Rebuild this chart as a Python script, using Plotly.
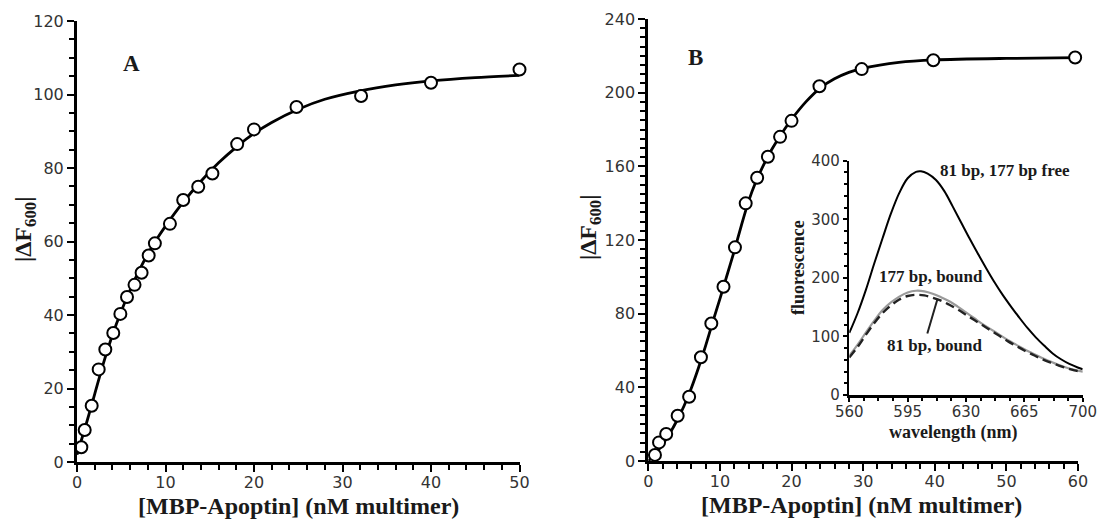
import plotly.graph_objects as go

# ---------------- Panel A data ----------------
a_x = [0.49, 0.87, 1.66, 2.45, 3.2, 4.1, 4.9, 5.65, 6.5, 7.3, 8.1, 8.8, 10.5, 12.0, 13.7, 15.3, 18.1, 20.0, 24.8, 32.1, 40.0, 50.0]
a_y = [4.0, 8.7, 15.3, 25.2, 30.6, 35.1, 40.3, 44.9, 48.2, 51.5, 56.2, 59.5, 64.8, 71.3, 74.9, 78.5, 86.5, 90.5, 96.6, 99.6, 103.2, 106.8]
a_fit_x = [0, 1, 2, 3, 4, 5, 6, 7, 8, 9, 10, 12, 14, 16, 18, 20, 22, 25, 28, 32, 36, 40, 45, 50]
a_fit_y = [2, 10, 18.5, 27, 34.5, 41, 46.8, 52, 56.6, 60.6, 64.2, 70.7, 76.4, 81.4, 85.7, 89.4, 92.4, 96, 98.7, 101, 102.6, 103.7, 104.6, 105.2]

# ---------------- Panel B data ----------------
b_x = [0.93, 1.5, 2.5, 4.1, 5.7, 7.35, 8.8, 10.5, 12.1, 13.6, 15.2, 16.7, 18.4, 20.0, 23.9, 29.8, 39.8, 59.6]
b_y = [3.3, 10.1, 14.7, 24.6, 34.9, 56.3, 74.7, 94.6, 116.0, 139.9, 153.8, 165.2, 176.0, 184.7, 203.5, 212.8, 217.6, 219.1]
b_fit_x = [0, 1, 2, 3, 4, 5, 6, 7, 8, 9, 10, 11, 12, 13, 14, 15, 16, 17, 18, 19, 20, 22, 24, 26, 28, 30, 35, 40, 50, 60]
b_fit_y = [0, 4, 9, 15, 22, 30, 39.5, 50.5, 62.5, 75.5, 88, 101, 114, 128, 141, 151.5, 160, 167.5, 174, 180, 185.5, 195, 202.5, 207.5, 211, 213.3, 216.5, 217.8, 218.6, 219]

# ---------------- Inset data ----------------
wl_free = [560, 565, 570, 575, 580, 585, 590, 595, 600, 603, 607, 612, 617, 622, 627, 632, 637, 642, 647, 652, 657, 662, 667, 672, 677, 682, 687, 692, 697, 700]
fl_free = [106, 140, 180, 225, 268, 310, 345, 370, 381, 382, 378, 367, 348, 322, 295, 268, 242, 217, 193, 171, 151, 132, 114, 98, 84, 71, 61, 53, 47, 44]
wl_bound = [560, 565, 570, 575, 580, 585, 590, 595, 600, 605, 610, 615, 620, 625, 630, 635, 640, 645, 650, 655, 660, 665, 670, 675, 680, 685, 690, 695, 700]
fl_81_bound = [64, 82, 103, 123, 140, 153, 163, 169, 171, 170, 166, 161, 154, 146, 137, 128, 119, 110, 101, 92, 84, 76, 69, 62, 56, 51, 46, 42, 39]
fl_177_bound = [67, 86, 107, 127, 145, 158, 168, 175, 178, 177, 173, 167, 160, 151, 141, 131, 121, 112, 103, 94, 86, 78, 71, 64, 58, 52, 47, 43, 40]
pointer_wl = [612.8, 606.8]
pointer_fl = [163, 105]

W, H = 1102, 521
def px(x):
    return x / W
def py(y):
    return 1 - y / H

SERIF = "Liberation Serif, Times New Roman, serif"
SANS = "DejaVu Sans, Verdana, sans-serif"

fig = go.Figure()

# Panel A
fig.add_trace(go.Scatter(x=a_fit_x, y=a_fit_y, mode="lines", line=dict(color="black", width=2.8, shape="spline", smoothing=0.8),
                         xaxis="x", yaxis="y", hoverinfo="skip", cliponaxis=False))
fig.add_trace(go.Scatter(x=a_x, y=a_y, mode="markers",
                         marker=dict(symbol="circle", size=12, color="white", line=dict(color="black", width=2)),
                         xaxis="x", yaxis="y", cliponaxis=False))
# Panel B
fig.add_trace(go.Scatter(x=b_fit_x, y=b_fit_y, mode="lines", line=dict(color="black", width=2.8, shape="spline", smoothing=0.8),
                         xaxis="x2", yaxis="y2", hoverinfo="skip", cliponaxis=False))
fig.add_trace(go.Scatter(x=b_x, y=b_y, mode="markers",
                         marker=dict(symbol="circle", size=12, color="white", line=dict(color="black", width=2)),
                         xaxis="x2", yaxis="y2", cliponaxis=False))
# Inset
fig.add_trace(go.Scatter(x=wl_free, y=fl_free, mode="lines", line=dict(color="black", width=2, shape="spline"),
                         xaxis="x3", yaxis="y3"))
fig.add_trace(go.Scatter(x=wl_bound, y=fl_177_bound, mode="lines", line=dict(color="#9a9a9a", width=2.2, shape="spline"),
                         xaxis="x3", yaxis="y3"))
fig.add_trace(go.Scatter(x=wl_bound, y=fl_81_bound, mode="lines", line=dict(color="#222222", width=2.4, dash="9px,5px", shape="spline"),
                         xaxis="x3", yaxis="y3"))
fig.add_trace(go.Scatter(x=pointer_wl, y=pointer_fl, mode="lines", line=dict(color="#222222", width=2),
                         xaxis="x3", yaxis="y3"))

axis_common = dict(showgrid=False, zeroline=False, showline=True, linecolor="black", ticks="outside",
                   tickcolor="black", tickwidth=2, fixedrange=True, automargin=False)

def minor(d, ln=5, t0=None):
    m = dict(dtick=d, ticks="outside", ticklen=ln, tickwidth=2, tickcolor="black", showgrid=False)
    if t0 is not None:
        m["tick0"] = t0
    return m

fig.update_layout(
    width=W, height=H,
    margin=dict(l=0, r=0, t=0, b=0, autoexpand=False),
    paper_bgcolor="white", plot_bgcolor="rgba(0,0,0,0)",
    showlegend=False,
    xaxis=dict(domain=[px(77), px(519.5)], range=[0, 50], dtick=10, tick0=0, anchor="y",
               linewidth=3, ticklen=7, ticklabelstandoff=-3, minor=minor(2),
               tickfont=dict(family=SANS, size=16, color="#333"), **axis_common),
    yaxis=dict(domain=[py(462), py(21)], range=[0, 120], dtick=20, tick0=0, anchor="x",
               linewidth=3, ticklen=7, minor=minor(5),
               tickfont=dict(family=SANS, size=16, color="#333"), **axis_common),
    xaxis2=dict(domain=[px(648.3), px(1078)], range=[0, 60], dtick=10, tick0=0, anchor="y2",
                linewidth=3, ticklen=7, ticklabelstandoff=-3, minor=minor(2),
                tickfont=dict(family=SANS, size=16, color="#333"), **axis_common),
    yaxis2=dict(domain=[py(461), py(19)], range=[0, 240], dtick=40, tick0=0, anchor="x2",
                linewidth=3, ticklen=7, minor=minor(5),
                tickfont=dict(family=SANS, size=16, color="#333"), **axis_common),
    xaxis3=dict(domain=[px(849.3), px(1082.7)], range=[560, 700], dtick=35, tick0=560, anchor="y3",
                linewidth=2.5, ticklen=4, ticklabelstandoff=-3, minor=minor(8.75, 3, 560),
                tickfont=dict(family=SANS, size=15, color="#333"), **axis_common),
    yaxis3=dict(domain=[py(395), py(160.7)], range=[0, 400], dtick=100, tick0=0, anchor="x3",
                linewidth=2.5, ticklen=4, minor=minor(20, 3),
                tickfont=dict(family=SANS, size=15, color="#333"), **axis_common),
)

ann = []
def paper_text(text, x, y, size, angle=0, xanchor="center"):
    ann.append(dict(text=text, x=px(x), y=py(y), xref="paper", yref="paper", showarrow=False,
                    textangle=angle, xanchor=xanchor, yanchor="middle",
                    font=dict(family=SERIF, size=size, color="#1a1a1a")))

paper_text("<b>A</b>", 131, 63, 23)
paper_text("<b>B</b>", 695, 58, 23)
paper_text("<b>[MBP-Apoptin] (nM multimer)</b>", 298, 506, 24)
paper_text("<b>[MBP-Apoptin] (nM multimer)</b>", 861, 505, 24)
paper_text("<b>|ΔF<sub>600</sub>|</b>", 25, 230, 24, angle=-90)
paper_text("<b>|ΔF<sub>600</sub>|</b>", 590, 228, 24, angle=-90)
paper_text("<b>wavelength (nm)</b>", 953, 432, 18)
paper_text("<b>fluorescence</b>", 798, 268, 18, angle=-90)

def inset_text(text, x, y, size):
    ann.append(dict(text=text, x=x, y=y, xref="x3", yref="y3", showarrow=False, xanchor="left", yanchor="middle",
                    font=dict(family=SERIF, size=size, color="#1a1a1a")))

inset_text("<b>81 bp, 177 bp free</b>", 613.4, 383, 17)
inset_text("<b>177 bp, bound</b>", 576.8, 202, 17)
inset_text("<b>81 bp, bound</b>", 581.4, 85, 17)

fig.update_layout(annotations=ann)

# remove the default 8px page margin so the 1102x521 figure fills the window exactly
fig.write_html("out.html", config={"displayModeBar": False, "staticPlot": True},
               post_script="document.body.style.margin='0px';")
